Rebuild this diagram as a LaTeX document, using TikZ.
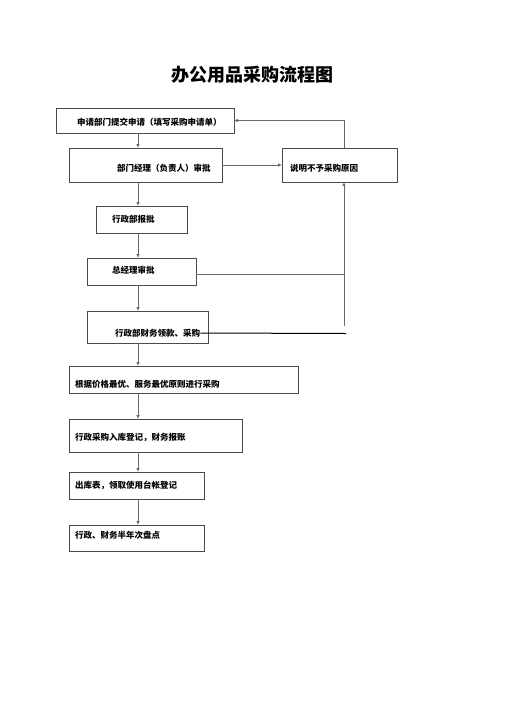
\documentclass[tikz,border=0pt]{standalone}
\usepackage{fontspec}
\setmainfont{Noto Sans CJK SC}
\usetikzlibrary{arrows.meta}
\definecolor{boxgray}{HTML}{4A4A4A}
\definecolor{linegray}{HTML}{6A6A6A}
\begin{document}
\begin{tikzpicture}[x=1pt,y=-1pt,
  box/.style={draw=boxgray, line width=0.8pt, inner sep=0pt},
  lab/.style={anchor=west, font=\fontsize{8.5}{10}\selectfont\bfseries, inner sep=0pt},
  conn/.style={draw=linegray, line width=0.7pt, -{Triangle[length=3.5pt,width=3pt]}},
  plain/.style={draw=linegray, line width=0.7pt},
  heavy/.style={draw=black, line width=1pt}]
\useasboundingbox (0,0) rectangle (504,713);
\fill[white] (0,0) rectangle (504,713);

\node[font=\fontsize{18}{20}\selectfont\bfseries, inner sep=0pt] (title) at (252,75) {办公用品采购流程图};

\node[box, minimum width=178pt, minimum height=25pt] (b1) at (145,120.5) {};
\node[box, minimum width=153pt, minimum height=34pt] (b2) at (145.5,165) {};
\node[box, minimum width=115pt, minimum height=34pt] (b3) at (339.5,165) {};
\node[box, minimum width=91pt, minimum height=27pt] (b4) at (141.5,219.5) {};
\node[box, minimum width=109pt, minimum height=27pt] (b5) at (141.5,271.5) {};
\node[box, minimum width=121pt, minimum height=32pt] (b6) at (147.5,327) {};
\node[box, minimum width=229pt, minimum height=27pt] (b7) at (183.5,379.5) {};
\node[box, minimum width=173pt, minimum height=33pt] (b8) at (155.5,435.5) {};
\node[box, minimum width=135pt, minimum height=27pt] (b9) at (136.5,485.5) {};
\node[box, minimum width=135pt, minimum height=26pt] (b10) at (136.5,538) {};

\node[lab] (t1) at (77,122) {申请部门提交申请（填写采购申请单）};
\node[lab] (t2) at (117,168) {部门经理（负责人）审批};
\node[lab] (t3) at (290,168) {说明不予采购原因};
\node[lab] (t4) at (112,219) {行政部报批};
\node[lab] (t5) at (112,270) {总经理审批};
\node[lab] (t6) at (115,333) {行政部财务领款、采购};
\node[lab] (t7) at (75,384) {根据价格最优、服务最优原则进行采购};
\node[lab] (t8) at (75,437) {行政采购入库登记，财务报账};
\node[lab] (t9) at (75,485) {出库表，领取使用台帐登记};
\node[lab] (t10) at (75,535) {行政、财务半年次盘点};

\coordinate (a) at (138,0);
\coordinate (r) at (344,0);
\coordinate (v) at (344,326);
\coordinate (h) at (346,333.5);

\draw[conn] (b1.south -| a) -- (b2.north -| a);
\draw[conn] (b2.south -| a) -- (b4.north -| a);
\draw[conn] (b4.south -| a) -- (b5.north -| a);
\draw[conn] (b5.south -| a) -- (b6.north -| a);
\draw[conn] (b6.south -| a) -- (b7.north -| a);
\draw[conn] (b7.south -| a) -- (b8.north -| a);
\draw[conn] (b8.south -| a) -- (b9.north -| a);
\draw[conn] (b9.south -| a) -- (b10.north -| a);

\draw[conn] (b2.east) -- (b3.west);
\draw[conn] (b3.north -| r) |- (b1.east);
\draw[conn] (v) -- (b3.south -| r);
\draw[plain] (b5.east) ++(0,2.5) -- (b5.east |- 0,274) -- (r |- 0,274);
\draw[heavy] (t6.east) -- (h);
\end{tikzpicture}
\end{document}
